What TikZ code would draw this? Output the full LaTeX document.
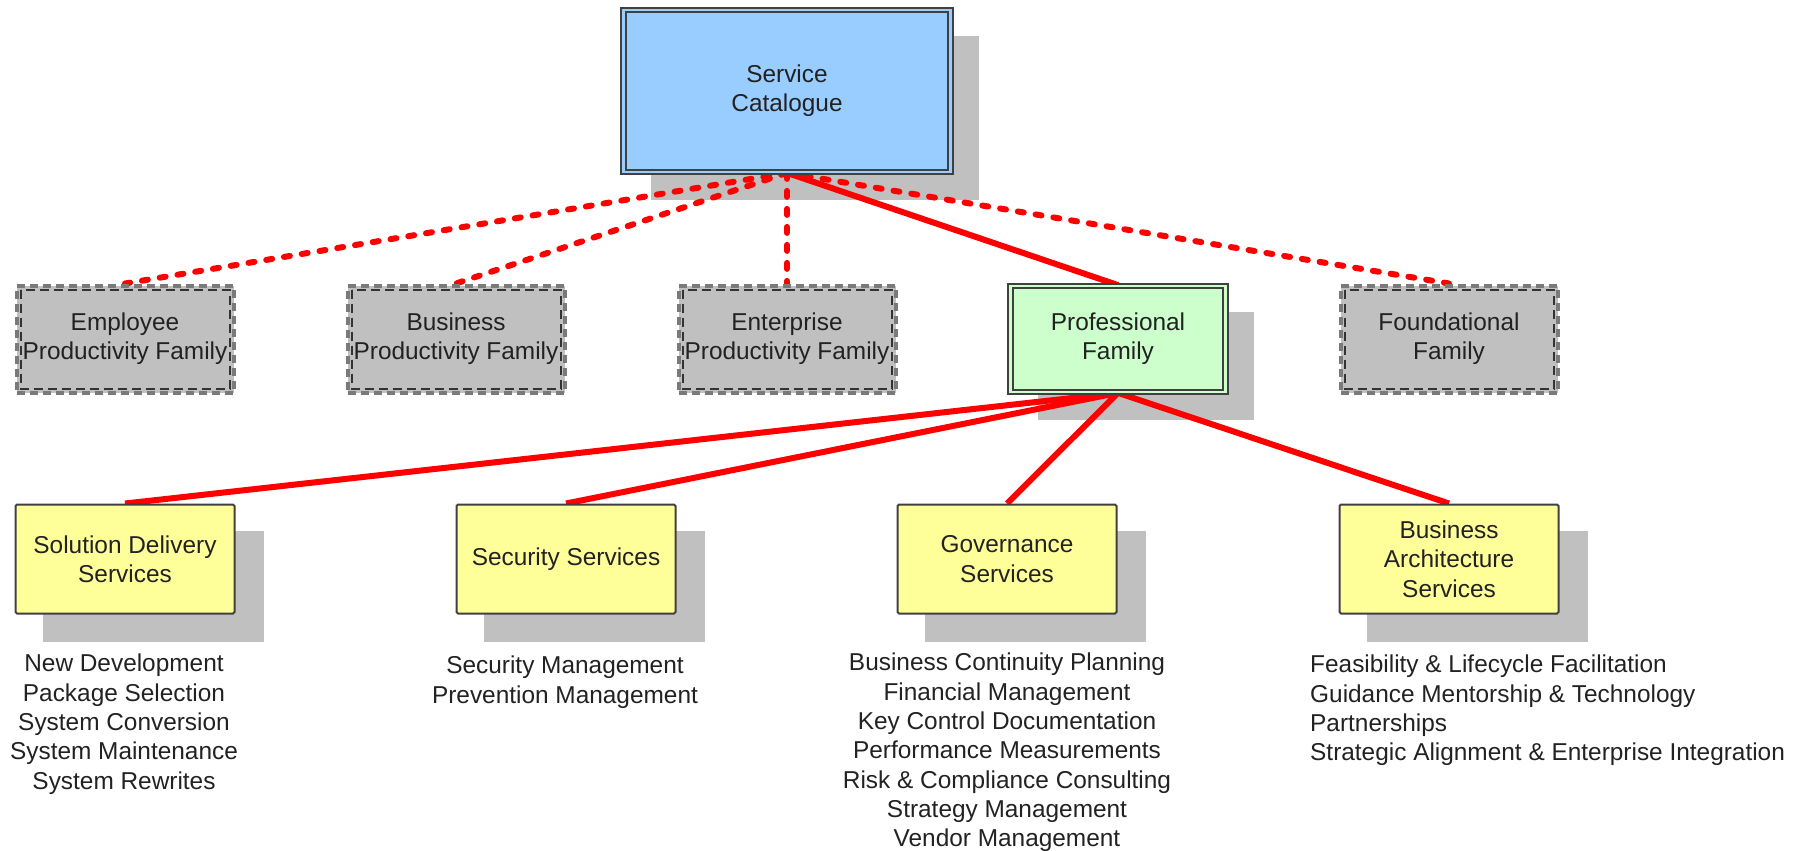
\documentclass[tikz,border=0pt]{standalone}
\usepackage{fontspec}
\setmainfont{Liberation Sans}
\definecolor{scblue}{HTML}{99CCFF}
\definecolor{pgreen}{HTML}{CCFFCC}
\definecolor{ybox}{HTML}{FFFF99}
\definecolor{gfill}{HTML}{C0C0C0}
\definecolor{shadowc}{HTML}{C0C0C0}
\definecolor{edge}{HTML}{404040}
\definecolor{dgray}{HTML}{7A7A7A}
\definecolor{txt}{HTML}{222222}
\definecolor{lred}{HTML}{FF0000}
\pgfdeclarelayer{bg}
\pgfdeclarelayer{mid}
\pgfsetlayers{bg,mid,main}
\tikzset{
  every node/.style={font=\fontsize{24.4}{29.3}\selectfont, text=txt, align=center, inner sep=0pt},
  topbox/.style={draw=edge, line width=1.8pt, double=scblue, double distance=2.6pt, fill=scblue, minimum width=327pt, minimum height=162pt},
  probox/.style={draw=edge, line width=1.8pt, double=pgreen, double distance=2.6pt, fill=pgreen, minimum width=215pt, minimum height=106pt},
  ghostbox/.style={fill=gfill, draw=dgray, line width=4pt, dash pattern=on 8pt off 5pt, minimum width=217pt, minimum height=107pt},
  innerdash/.style={draw=black!80, line width=2pt, dash pattern=on 9pt off 5pt},
  svcbox/.style={fill=ybox, draw=edge, line width=2pt, rounded corners=1.5pt, minimum width=219pt, minimum height=109pt},
  listtext/.style={anchor=north},
  dline/.style={draw=lred, line width=6pt, line cap=round, dash pattern=on 6pt off 12pt},
  sline/.style={draw=lred, line width=6pt},
  shadowfill/.style={fill=shadowc}
}
\newcommand{\myshadow}[1]{\fill[shadowfill] ([shift={(28pt,-27pt)}]#1.north west) rectangle ([shift={(28pt,-27pt)}]#1.south east);}
\newcommand{\myinner}[1]{\draw[innerdash] ([shift={(6pt,-6pt)}]#1.north west) rectangle ([shift={(-6pt,6pt)}]#1.south east);}
\begin{document}
\begin{tikzpicture}[x=1pt,y=-1pt]
\useasboundingbox (0,0) rectangle (1802,851);
% top
\node[topbox] (sc) at (787,91) {Service\\Catalogue};
% families
\node[ghostbox] (emp) at (125,339) {Employee\\Productivity Family};
\node[ghostbox] (bus) at (456,339) {Business\\Productivity Family};
\node[ghostbox] (ent) at (787,339) {Enterprise\\Productivity Family};
\node[probox] (pro) at (1118,339) {Professional\\Family};
\node[ghostbox] (fou) at (1449,339) {Foundational\\Family};
\myinner{emp}\myinner{bus}\myinner{ent}\myinner{fou}
% services
\node[svcbox] (sol) at (125,559) {Solution Delivery\\Services};
\node[svcbox] (sec) at (566,559) {Security Services};
\node[svcbox] (gov) at (1007,559) {Governance\\Services};
\node[svcbox] (bar) at (1449,559) {Business\\Architecture\\Services};
% lists
\node[listtext] (lsol) at (124,654) {New Development\\Package Selection\\System Conversion\\System Maintenance\\System Rewrites};
\node[listtext] (lsec) at (565,656) {Security Management\\Prevention Management};
\node[listtext] (lgov) at (1007,653) {Business Continuity Planning\\Financial Management\\Key Control Documentation\\Performance Measurements\\Risk \& Compliance Consulting\\Strategy Management\\Vendor Management};
\node[anchor=north west, align=left] (lbar) at (1310,655) {Feasibility \& Lifecycle Facilitation\\Guidance Mentorship \& Technology\\Partnerships\\Strategic Alignment \& Enterprise Integration};
% shadows
\begin{pgfonlayer}{bg}
\myshadow{sc}\myshadow{pro}\myshadow{sol}\myshadow{sec}\myshadow{gov}\myshadow{bar}
\end{pgfonlayer}
% connectors
\begin{pgfonlayer}{mid}
\draw[dline] (sc.south) -- (emp.north);
\draw[dline] (sc.south) -- (bus.north);
\draw[dline] (sc.south) -- (ent.north);
\draw[sline] (sc.south) -- (pro.north);
\draw[dline] (sc.south) -- (fou.north);
\draw[sline] (pro.south) -- (sol.north);
\draw[sline] (pro.south) -- (sec.north);
\draw[sline] (pro.south) -- (gov.north);
\draw[sline] (pro.south) -- (bar.north);
\end{pgfonlayer}
\end{tikzpicture}
\end{document}
